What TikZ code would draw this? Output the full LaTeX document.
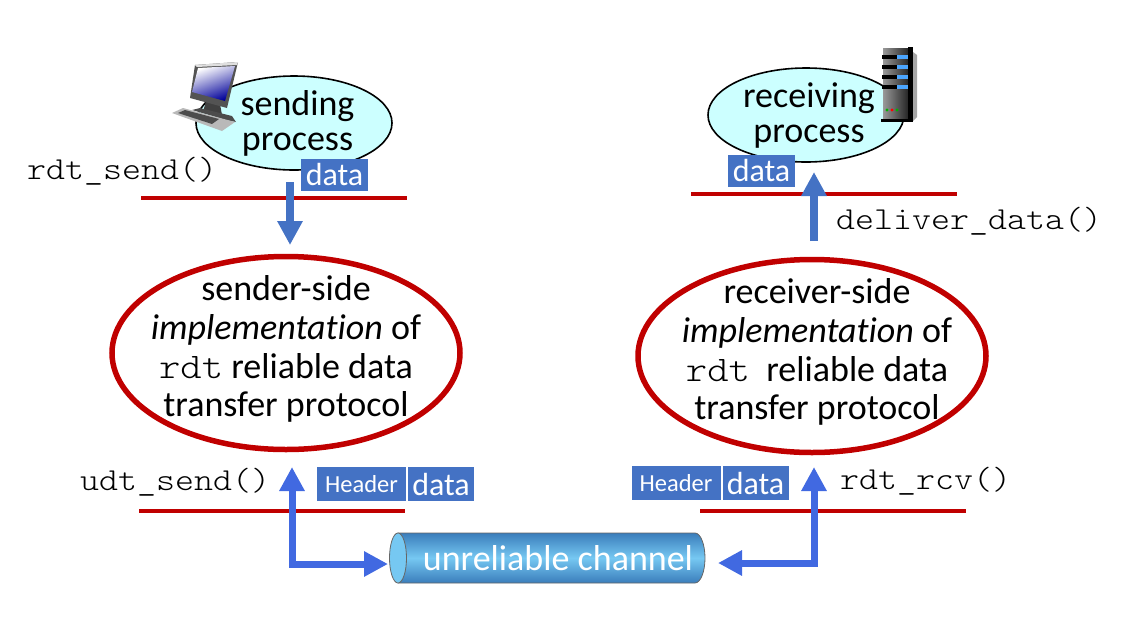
\documentclass[tikz,border=0pt]{standalone}
\usepackage{fontspec}
\setmainfont[Ligatures=NoCommon]{Carlito}
\setmonofont[FakeStretch=1.13]{Latin Modern Mono Light}
\usetikzlibrary{arrows.meta,shapes.geometric}
\newcommand{\fsz}[2]{\fontsize{#1}{#2}\selectfont}
\begin{document}
\begin{tikzpicture}[x=1pt,y=-1pt,
  proc/.style={ellipse,draw=black,line width=1.6pt,fill=cyanlt,minimum width=196pt,minimum height=94pt,inner sep=0pt},
  proctxt/.style={inner sep=0pt,align=center,font=\fsz{36}{35}},
  impl/.style={ellipse,draw=redd,line width=5.5pt,minimum width=348pt,minimum height=193pt,inner sep=0pt},
  impltxt/.style={inner sep=0pt,align=center,font=\fsz{36}{38.8}},
  rule/.style={draw=redd,line width=3.2pt},
  tag/.style={fill=bluebox,text=white,inner sep=0pt,font=\fsz{32}{32}},
  hdr/.style={tag,minimum width=89pt,minimum height=34pt,font=\fsz{24.5}{24.5}},
  dat/.style={tag,minimum width=66pt,minimum height=34pt},
  code/.style={anchor=west,inner sep=0pt,font=\ttfamily\fsz{32}{32},text=black},
  flow/.style={draw=bluebox,line width=7.5pt,-{Triangle[length=24pt,width=24pt]}},
  chan/.style={draw=blueln,line width=7pt,{Triangle[length=24pt,width=24pt]}-{Triangle[length=24pt,width=24pt]}}]
\definecolor{cyanlt}{HTML}{CCFFFF}\definecolor{redd}{HTML}{C00000}
\definecolor{bluebox}{HTML}{4472C4}\definecolor{blueln}{HTML}{4169E1}
\definecolor{pipe}{HTML}{76C8F2}\definecolor{pipedk}{HTML}{3A7DBB}
\useasboundingbox (0,0) rectangle (1128,622);
% top processes
\node[proc] (sendproc) at (294,123) {};
\node[proc] (recvproc) at (806,115) {};
\node[proctxt] (sendtxt) at (297.5,123) {sending\\process};
\node[proctxt] (recvtxt) at (809,116) {receiving\\process};
% computer
\fill[black!75] (203,112) -- (206,101) -- (220,104) -- (222,115) -- cycle;
\fill[gray!60!black] (192,110) -- (200,108) -- (232,116) -- (236,122) -- (226,120) -- cycle;
\fill[gray!65!black] (195,65) -- (238,62) -- (227,108) -- (190,98) -- cycle;
\fill[gray!25] (195,65) -- (238,62) -- (237,65) -- (197,67) -- cycle;
\shade[left color=white,right color=blue!60!black,shading angle=20] (198,68) -- (235,66) -- (225,101) -- (192,92) -- cycle;
\fill[gray!55] (172,113) -- (183,108) -- (235,122) -- (222,131) -- cycle;
\fill[black!70] (178,113) -- (185,110) -- (219,119) -- (212,124) -- cycle;
% server
\shade[left color=gray!80,right color=black!85] (883,48) rectangle (908,121);
\fill[black] (908,47) rectangle (913,121);
\fill[gray!70] (913,52) -- (917,55) -- (917,117) -- (913,121) -- cycle;
\fill[black] (881,119) rectangle (913,122);
\foreach \yy in {57,67,77,87} {
  \fill[black] (882,\yy-2) rectangle (905,\yy+2);
  \fill[blue!50!cyan!70] (897,\yy-2) rectangle (908,\yy+2);
}
\fill[green!70!black] (887,110) circle (1.7);
\fill[red] (892,110) circle (1.7);
\fill[green!70!black] (897,110) circle (1.7);
% service lines
\path[rule] (141,198) -- (407,198);
\path[rule] (691,194) -- (957,194);
\path[rule] (139,511) -- (405,511);
\path[rule] (700,511) -- (966,511);
% protocol ellipses
\node[impl] (sendimpl) at (286,353) {};
\node[impl] (recvimpl) at (812,356) {};
\node[impltxt] (sendimpltxt) at (286,349) {sender-side\\\textit{implementation} of\\\texttt{rdt} reliable data\\transfer protocol};
\node[impltxt] (recvimpltxt) at (817,352) {receiver-side\\\textit{implementation} of\\\texttt{rdt}\ \ reliable data\\transfer protocol};
% labels
\node[code] (rdtsend) at (27,171) {rdt\_send()};
\node[code] (deliver) at (836,221) {deliver\_data()};
\node[code] (udtsend) at (80,482) {udt\_send()};
\node[code] (rdtrcv) at (840,481) {rdt\_rcv()};
% packets
\node[tag,minimum width=67pt,minimum height=32pt] (senddata) at (334.5,175) {data};
\node[tag,minimum width=67pt,minimum height=32pt] (recvdata) at (761.5,171) {data};
\node[hdr] (sendhdr) at (361.5,484) {Header};
\node[dat] (sendpay) at (441,484) {data};
\node[hdr] (recvhdr) at (676,483) {Header};
\node[dat] (recvpay) at (755.5,483) {data};
% channel
\shade[top color=pipedk,bottom color=pipedk,middle color=pipe,draw=gray!80!black,line width=.8pt] (398,533) -- (695,533) arc[start angle=-90,end angle=90,x radius=10,y radius=25] -- (398,583) -- cycle;
\fill[pipe,draw=gray!80!black,line width=.8pt] (398,558) ellipse (8.5 and 25);
\node[text=white,font=\fsz{36}{36}] (channel) at (558,558) {unreliable channel};
% arrows
\coordinate (sendstart) at (290,182);
\coordinate (sendend) at (290,245);
\coordinate (recvstart) at (814,241);
\coordinate (recvend) at (814,172);
\coordinate (senduptip) at (292,467);
\coordinate (sendchan) at (388,564);
\coordinate (recvuptip) at (814,467);
\coordinate (recvchan) at (718,563);
\draw[flow] (sendstart) -- (sendend);
\draw[flow] (recvstart) -- (recvend);
\draw[chan] (senduptip) |- (sendchan);
\draw[chan] (recvuptip) |- (recvchan);
\end{tikzpicture}
\end{document}
